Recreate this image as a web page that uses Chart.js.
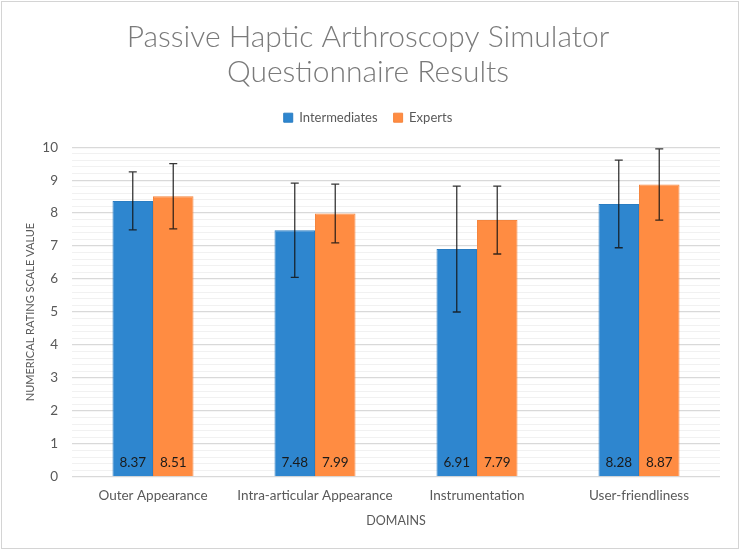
<!DOCTYPE html>
<html>
<head>
<meta charset="utf-8">
<script src="https://cdn.jsdelivr.net/npm/chart.js@4.4.1/dist/chart.umd.min.js"></script>
<style>
  html, body { margin: 0; padding: 0; background: #fff; }
  #wrap { width: 740px; height: 550px; position: relative; }
</style>
</head>
<body>
<div id="wrap"><canvas id="questionnaireChart" width="740" height="550"></canvas></div>
<script>
// values
const domains = ['Outer Appearance', 'Intra-articular Appearance', 'Instrumentation', 'User-friendliness'];
const intermediates = [8.37, 7.48, 6.91, 8.28];
const experts = [8.51, 7.99, 7.79, 8.87];
const intermediatesErr = [0.88, 1.43, 1.91, 1.33];
const expertsErr = [0.99, 0.89, 1.03, 1.08];
const yTicks = [0, 1, 2, 3, 4, 5, 6, 7, 8, 9, 10];

const FONT = 'Lato, "Liberation Sans", sans-serif';

function isMajor(v) {
    return Math.abs(v - Math.round(v)) < 1e-6;
}

// white page with a thin frame round it
const framePlugin = {
    id: 'frame',
    afterInit(chart) {
        // leave some room under the legend
        const fit = chart.legend.fit;
        chart.legend.fit = function () {
            fit.call(this);
            this.height += 13;
        };
    },
    beforeDraw(chart) {
        const ctx = chart.ctx;
        ctx.save();
        ctx.fillStyle = '#fff';
        ctx.fillRect(0, 0, chart.width, chart.height);
        ctx.strokeStyle = '#d4d4d4';
        ctx.lineWidth = 1;
        ctx.strokeRect(1.5, 1.5, chart.width - 3, chart.height - 3);
        ctx.restore();
    }
};

// error bars + value labels at the bar base
const barExtrasPlugin = {
    id: 'barExtras',
    afterDatasetsDraw(chart) {
        const ctx = chart.ctx;
        const yScale = chart.scales.y;
        ctx.save();
        chart.data.datasets.forEach((ds, i) => {
            const meta = chart.getDatasetMeta(i);
            meta.data.forEach((bar, j) => {
                const val = ds.data[j];
                const err = ds.errors[j];
                const yTop = yScale.getPixelForValue(val + err);
                const yBot = yScale.getPixelForValue(val - err);
                ctx.strokeStyle = 'rgba(20,20,20,0.85)';
                ctx.lineWidth = 1.3;
                ctx.beginPath();
                ctx.moveTo(bar.x, yTop);
                ctx.lineTo(bar.x, yBot);
                ctx.moveTo(bar.x - 4, yTop);
                ctx.lineTo(bar.x + 4, yTop);
                ctx.moveTo(bar.x - 4, yBot);
                ctx.lineTo(bar.x + 4, yBot);
                ctx.stroke();

                ctx.fillStyle = '#1a1a1a';
                ctx.font = '13.5px ' + FONT;
                ctx.textAlign = 'center';
                ctx.textBaseline = 'middle';
                ctx.fillText(val.toFixed(2), bar.x, yScale.getPixelForValue(0) - 14);
            });
        });
        ctx.restore();
    }
};

const minorTicks = [];
for (let k = 0; k <= 50; k++) {
    minorTicks.push(k / 5);
}

new Chart(document.getElementById('questionnaireChart'), {
    type: 'bar',
    data: {
        labels: domains,
        datasets: [{
            label: 'Intermediates',
            data: intermediates,
            errors: intermediatesErr,
            backgroundColor: '#2e86cf',
            borderColor: '#2a7dc2',
            borderWidth: 1,
            categoryPercentage: 0.5,
            barPercentage: 1.0
        }, {
            label: 'Experts',
            data: experts,
            errors: expertsErr,
            backgroundColor: '#ff8c42',
            borderColor: '#f5853d',
            borderWidth: 1,
            categoryPercentage: 0.5,
            barPercentage: 1.0
        }]
    },
    options: {
        responsive: false,
        animation: false,
        layout: { padding: { left: 16, right: 20, top: 16, bottom: 18 } },
        plugins: {
            title: {
                display: true,
                text: ['Passive Haptic Arthroscopy Simulator', 'Questionnaire Results'],
                color: '#7a7a7a',
                font: { family: FONT, size: 30, weight: 300, lineHeight: 1.17 },
                padding: { top: 4, bottom: 5 }
            },
            legend: {
                position: 'top',
                labels: {
                    boxWidth: 9,
                    boxHeight: 9,
                    color: '#595959',
                    font: { family: FONT, size: 13 },
                    padding: 16
                }
            },
            tooltip: { enabled: false }
        },
        scales: {
            x: {
                grid: { display: false },
                border: { display: false },
                ticks: { color: '#595959', font: { family: FONT, size: 13.5 }, padding: 3 },
                title: {
                    display: true,
                    text: 'DOMAINS',
                    color: '#595959',
                    font: { family: FONT, size: 12.5 },
                    padding: { top: 6 }
                }
            },
            y: {
                min: 0,
                max: 10,
                afterBuildTicks: axis => {
                    axis.ticks = minorTicks.map(v => ({ value: v }));
                },
                afterFit: axis => {
                    axis.width = 56;
                },
                ticks: {
                    autoSkip: false,
                    color: '#595959',
                    font: { family: FONT, size: 13.5 },
                    padding: 14,
                    callback: v => (isMajor(v) && yTicks.includes(Math.round(v))) ? String(Math.round(v)) : ''
                },
                grid: {
                    drawTicks: false,
                    color: c => isMajor(c.tick.value) ? '#d9d9d9' : '#f1f1f1',
                    lineWidth: c => isMajor(c.tick.value) ? 1.3 : 1
                },
                border: { display: false },
                title: {
                    display: true,
                    text: 'NUMERICAL RATING SCALE VALUE',
                    color: '#595959',
                    font: { family: FONT, size: 11 },
                    padding: { top: 8, bottom: 0 }
                }
            }
        }
    },
    plugins: [framePlugin, barExtrasPlugin]
});
</script>
</body>
</html>
